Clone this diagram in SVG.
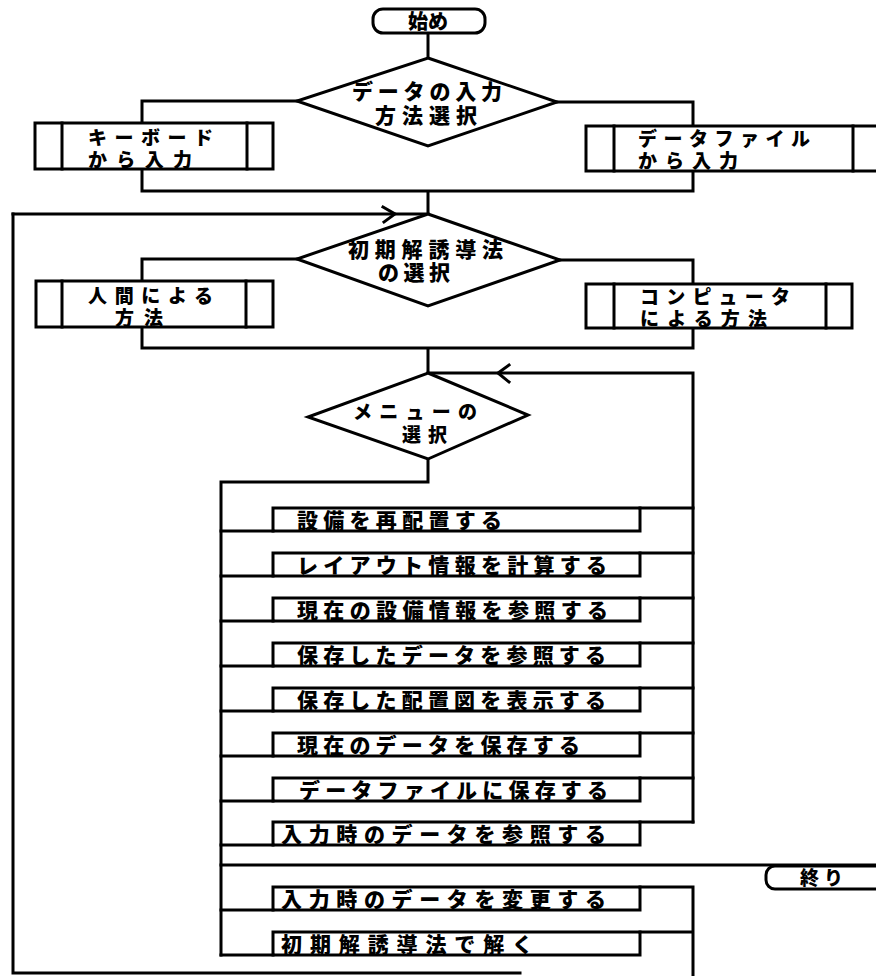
<svg xmlns="http://www.w3.org/2000/svg" width="876" height="976" viewBox="0 0 876 976">
<style>
.ln{fill:none;stroke:#000;stroke-width:3;stroke-linecap:square;stroke-linejoin:miter}
.bx{fill:#fff;stroke:#000;stroke-width:3}
.mb{fill:none;stroke:#000;stroke-width:3}
.t{font-family:"Noto Sans CJK JP","Noto Sans CJK SC",sans-serif;font-weight:900;fill:#000}
.d{font-size:21px}
.s{font-size:19px}
.m{font-size:21px}
</style>
<rect width="876" height="976" fill="#fff"/>
<g id="connectors">
<path class="ln" d="M428 33V58"/>
<path class="ln" d="M297 101H142V191M557 102H693V191M142 191H693M428 191V214"/>
<path class="ln" d="M13 214H428"/>
<path class="ln" d="M383 207L395 214L384 222"/>
<path class="ln" d="M297 259H142V348M560 260H693V348M142 348H693M428 348V373"/>
<path class="ln" d="M693 822V373H428"/>
<path class="ln" d="M509 365L498 373L509 382"/>
<path class="ln" d="M428 459V482H221V955"/>
<path class="ln" d="M13 214V973H520"/>
<path class="ln" d="M640 508H693M640 553H693M640 598H693M640 643H693M640 688H693M640 733H693M640 778H693M640 822H693"/>
<path class="ln" d="M221 531H273M221 576H273M221 621H273M221 666H273M221 711H273M221 756H273M221 801H273M221 845H273"/>
<path class="ln" d="M221 865H876"/>
<path class="ln" d="M640 887H693M640 932H693M693 887V976M221 910H273M221 955H273"/>
</g>
<g id="start">
<rect class="bx" x="373" y="9" width="112" height="24" rx="10"/>
<text class="t" x="428" y="29" font-size="20" text-anchor="middle">始め</text>
</g>
<g id="dec-input">
<path class="bx" d="M428 58L557 102L428 146L297 101Z"/>
<text class="t d"><tspan x="352" y="99" textLength="150" lengthAdjust="spacing">データの入力</tspan><tspan x="375" y="123" textLength="102" lengthAdjust="spacing">方法選択</tspan></text>
</g>
<g id="keyboard">
<rect class="bx" x="35" y="123" width="238" height="46"/>
<path class="ln" d="M62 123V169M247 123V169"/>
<text class="t s"><tspan x="88" y="145" textLength="125" lengthAdjust="spacing">キーボード</tspan><tspan x="88" y="167" textLength="104" lengthAdjust="spacing">から入力</tspan></text>
</g>
<g id="datafile">
<rect class="bx" x="586" y="126" width="310" height="45"/>
<path class="ln" d="M614 126V171M853 126V171"/>
<text class="t s"><tspan x="638" y="146" textLength="172" lengthAdjust="spacing">データファイル</tspan><tspan x="638" y="168" textLength="100" lengthAdjust="spacing">から入力</tspan></text>
</g>
<g id="dec-method">
<path class="bx" d="M428 214L560 260L428 306L297 259Z"/>
<text class="t d"><tspan x="348" y="257" textLength="155" lengthAdjust="spacing">初期解誘導法</tspan><tspan x="378" y="280" textLength="72" lengthAdjust="spacing">の選択</tspan></text>
</g>
<g id="human">
<rect class="bx" x="36" y="281" width="237" height="46"/>
<path class="ln" d="M62 281V327M246 281V327"/>
<text class="t s"><tspan x="88" y="303" textLength="125" lengthAdjust="spacing">人間による</tspan><tspan x="115" y="325" textLength="48" lengthAdjust="spacing">方法</tspan></text>
</g>
<g id="computer">
<rect class="bx" x="586" y="284" width="266" height="44"/>
<path class="ln" d="M614 284V328M826 284V328"/>
<text class="t s"><tspan x="640" y="304" textLength="150" lengthAdjust="spacing">コンピュータ</tspan><tspan x="640" y="326" textLength="127" lengthAdjust="spacing">による方法</tspan></text>
</g>
<g id="dec-menu">
<path class="bx" d="M428 373L528 415L428 459L308 417Z"/>
<text class="t s"><tspan x="353" y="419" textLength="124" lengthAdjust="spacing">メニューの</tspan><tspan x="402" y="442" textLength="45" lengthAdjust="spacing">選択</tspan></text>
</g>
<g id="menu1"><rect class="mb" x="273" y="508" width="367" height="23"/><text class="t m" x="297" y="528" textLength="205" lengthAdjust="spacing">設備を再配置する</text></g>
<g id="menu2"><rect class="mb" x="273" y="553" width="367" height="23"/><text class="t m" x="297" y="573" textLength="310" lengthAdjust="spacing">レイアウト情報を計算する</text></g>
<g id="menu3"><rect class="mb" x="273" y="598" width="367" height="23"/><text class="t m" x="297" y="618" textLength="311" lengthAdjust="spacing">現在の設備情報を参照する</text></g>
<g id="menu4"><rect class="mb" x="273" y="643" width="367" height="23"/><text class="t m" x="297" y="663" textLength="309" lengthAdjust="spacing">保存したデータを参照する</text></g>
<g id="menu5"><rect class="mb" x="273" y="688" width="367" height="23"/><text class="t m" x="297" y="708" textLength="309" lengthAdjust="spacing">保存した配置図を表示する</text></g>
<g id="menu6"><rect class="mb" x="273" y="733" width="367" height="23"/><text class="t m" x="297" y="753" textLength="283" lengthAdjust="spacing">現在のデータを保存する</text></g>
<g id="menu7"><rect class="mb" x="273" y="778" width="367" height="23"/><text class="t m" x="299" y="798" textLength="309" lengthAdjust="spacing">データファイルに保存する</text></g>
<g id="menu8"><rect class="mb" x="273" y="822" width="367" height="23"/><text class="t m" x="281" y="842" textLength="325" lengthAdjust="spacing">入力時のデータを参照する</text></g>
<g id="menu9"><rect class="mb" x="273" y="887" width="367" height="23"/><text class="t m" x="281" y="907" textLength="325" lengthAdjust="spacing">入力時のデータを変更する</text></g>
<g id="menu10"><rect class="mb" x="273" y="932" width="367" height="23"/><text class="t m" x="281" y="952" textLength="252" lengthAdjust="spacing">初期解誘導法で解く</text></g>
<g id="end">
<rect class="bx" x="766" y="866" width="140" height="23" rx="9"/>
<text class="t s" x="800" y="885" textLength="43" lengthAdjust="spacing">終り</text>
</g>
</svg>
